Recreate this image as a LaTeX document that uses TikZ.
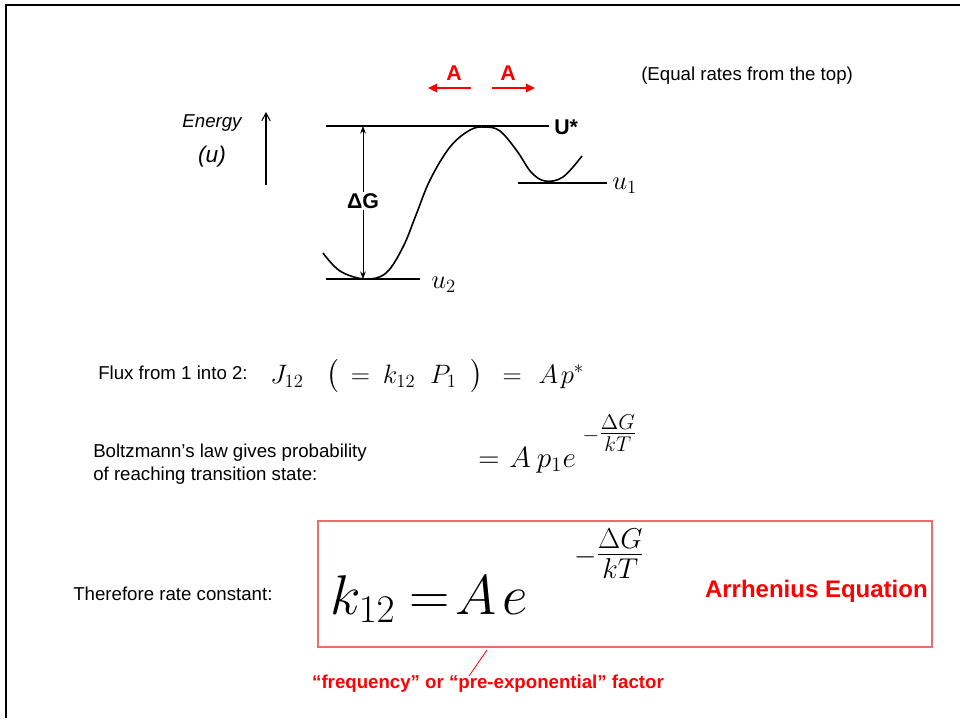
\documentclass[tikz,border=0pt]{standalone}
\usepackage{fix-cm}
\usepackage{amsmath}
\usepackage[no-math]{fontspec}
\setmainfont{Liberation Sans}
\usetikzlibrary{arrows.meta,positioning}
\definecolor{slidered}{HTML}{FF0000}
\definecolor{boxred}{HTML}{F26B6B}

\begin{document}
\begin{tikzpicture}[x=0.75pt, y=-0.75pt,
    txt/.style={inner sep=0pt, align=left, font=\fontsize{14}{17}\selectfont},
    hand/.style={inner sep=0pt, font=\fontsize{14}{17}\selectfont\itshape},
    mth/.style={inner sep=0pt, font=\fontsize{20}{24}\selectfont},
    redlbl/.style={inner sep=0pt, text=slidered, font=\fontsize{16}{19}\selectfont\bfseries},
    level/.style={line width=0.9pt},
    rate/.style={-{Triangle[length=2.4mm, width=2.2mm]}, draw=slidered, line width=2pt}
  ]
  \useasboundingbox (0,0) rectangle (960,722);
  \draw[line width=1.2pt] (6,718) -- (6,5) -- (960,5);

  % energy profile
  \node[hand] (energy) at (212,123) {Energy};
  \node[hand, below=11pt of energy, font=\fontsize{17}{20}\selectfont\itshape] (unit) {(u)};
  \coordinate (ebot) at (266,185);
  \coordinate (etop) at (266,112);
  \draw[-{Straight Barb[length=2mm, width=2.2mm]}, line width=0.8pt] (ebot) -- (etop);

  \coordinate (top) at (326,126);
  \coordinate (topend) at (549,126);
  \coordinate (low) at (326,279);
  \coordinate (lowend) at (420,279);
  \coordinate (mid) at (518,183);
  \coordinate (midend) at (607,183);
  \draw[level] (top) -- (topend);
  \draw[level] (low) -- (lowend);
  \draw[level] (mid) -- (midend);
  \node[anchor=west, inner sep=0pt, font=\fontsize{16}{19}\selectfont\bfseries] (ustar) at (554,127) {U*};
  \node[anchor=west, mth] (u1) at (612,186) {$u_1$};
  \node[anchor=west, mth] (u2) at (431,285) {$u_2$};

  \coordinate (gtop) at (363,126);
  \coordinate (gbot) at (363,279);
  \draw[{Stealth[length=2mm]}-{Stealth[length=2mm]}, line width=0.6pt] (gtop) -- (gbot);
  \node[fill=white, inner sep=1pt, font=\fontsize{16}{19}\selectfont\bfseries] (dg) at (363,201) {ΔG};

  \draw[line width=1.2pt] plot[smooth, tension=0.6] coordinates {
    (323,253) (340,271) (365,279) (386,273) (403,247) (416,215) (430,180) (450,147)
    (470,130) (485,127) (500,131) (517,151) (531,172) (545,181) (563,177) (582,156)};

  % rates from the top
  \node[redlbl] (al) at (454,73) {A};
  \node[redlbl] (ar) at (508,73) {A};
  \coordinate (alfrom) at (471,88);
  \coordinate (alto) at (428,88);
  \coordinate (arfrom) at (492,88);
  \coordinate (arto) at (535,88);
  \draw[rate] (alfrom) -- (alto);
  \draw[rate] (arfrom) -- (arto);
  \node[txt, anchor=west] (equal) at (641,76) {(Equal rates from the top)};

  % flux
  \node[txt, anchor=west] (flux) at (98,373) {Flux from 1 into 2:};
  \node[mth, anchor=base west] (eqflux) at (270,383)
    {$J_{12}\hspace{17pt}\bigl(\hspace{9pt}{=}\hspace{9.5pt}k_{12}\hspace{11pt}P_1\hspace{10pt}\bigr)\hspace{15pt}{=}\hspace{12.5pt}A\hspace{2pt}p^{*}$};

  \node[txt, anchor=west] (boltz) at (93,464) {Boltzmann's law gives probability\\of reaching transition state:};
  \node[mth, anchor=base west, font=\fontsize{22}{26}\selectfont] (eqboltz) at (478,467)
    {${=}\hspace{7.5pt}A\hspace{4.5pt}p_1\hspace{0.5pt}e$\hspace{5pt}\raisebox{19.5pt}{\fontsize{32}{34}\selectfont$\scriptscriptstyle-\scriptstyle\frac{\Delta G}{kT}$}};

  % rate constant
  \draw[boxred, line width=1.2pt] (318,521) rectangle (932,647);
  \node[txt, anchor=west] (therefore) at (73,594) {Therefore rate constant:};
  \node[inner sep=0pt, anchor=base west, font=\fontsize{42}{46}\selectfont] (arr) at (330,614)
    {$k_{12}\hspace{10.5pt}{=}\hspace{4.5pt}A\hspace{4pt}e$\hspace{35pt}\raisebox{37pt}{\fontsize{43}{45}\selectfont$\scriptscriptstyle-\scriptstyle\frac{\Delta G}{kT}$}};
  \node[redlbl, anchor=east, font=\fontsize{18}{21}\selectfont\bfseries] (arrname) at (928,591) {Arrhenius Equation};

  \node[redlbl, font=\fontsize{14}{17}\selectfont\bfseries] (factor) at (488,684) {``frequency'' or ``pre-exponential'' factor};
  \coordinate (ptrA) at (487,650);
  \coordinate (ptrB) at (469,676);
  \draw[slidered, line width=0.6pt] (ptrA) -- (ptrB);
\end{tikzpicture}
\end{document}
